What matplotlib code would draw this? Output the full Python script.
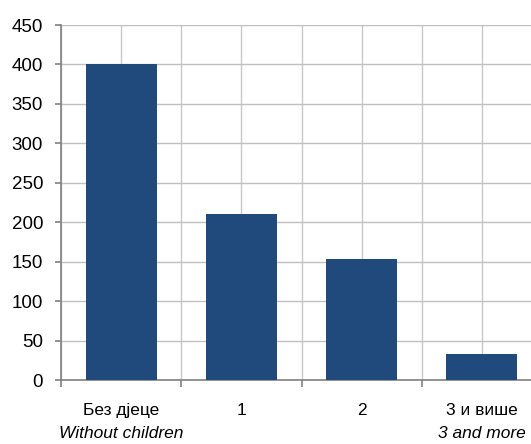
import matplotlib.pyplot as plt
import numpy as np

plt.rcParams['font.family'] = ['Liberation Sans', 'DejaVu Sans']

labels_sr = ['Без дјеце', '1', '2', '3 и више']
labels_en = ['Without children', '', '', '3 and more']
values = [400, 211, 154, 33]

fig = plt.figure(figsize=(5.31, 4.44), dpi=100)
# right edge runs past the image, like the original
ax = fig.add_axes([61 / 531, 64 / 444, 481 / 531, 355 / 444])

x = np.arange(len(values))
ax.bar(x, values, width=0.59, color='#214a7c', zorder=3)

ax.set_xlim(-0.5, 3.5)
ax.set_ylim(0, 450)
ax.set_yticks(np.arange(0, 451, 50))

# grid on centres and on category edges
ax.set_xticks(x)
ax.set_xticks(np.arange(-0.5, 3.6, 1), minor=True)
ax.grid(True, which='both', axis='x', color='#c8c8c8', lw=1, zorder=0)
ax.grid(True, which='major', axis='y', color='#c0c0c0', lw=1, zorder=0)

ax.set_xticklabels([])
ax.tick_params(axis='x', which='major', length=0)
ax.tick_params(axis='x', which='minor', length=5, color='#808080', width=1.2)
ax.tick_params(axis='y', length=4.3, color='#808080', width=1.2, labelsize=13.5, pad=8.6)

for s in ['top', 'right']:
    ax.spines[s].set_visible(False)
for s in ['left', 'bottom']:
    ax.spines[s].set_color('#808080')
    ax.spines[s].set_linewidth(1.2)

for i in x:
    ax.text(i, -44.4, labels_sr[i], ha='center', va='baseline', fontsize=12.5)
    if labels_en[i]:
        ax.text(i, -73, labels_en[i], ha='center', va='baseline', fontsize=12.5, style='italic')

fig.savefig('out.png', dpi=100)
